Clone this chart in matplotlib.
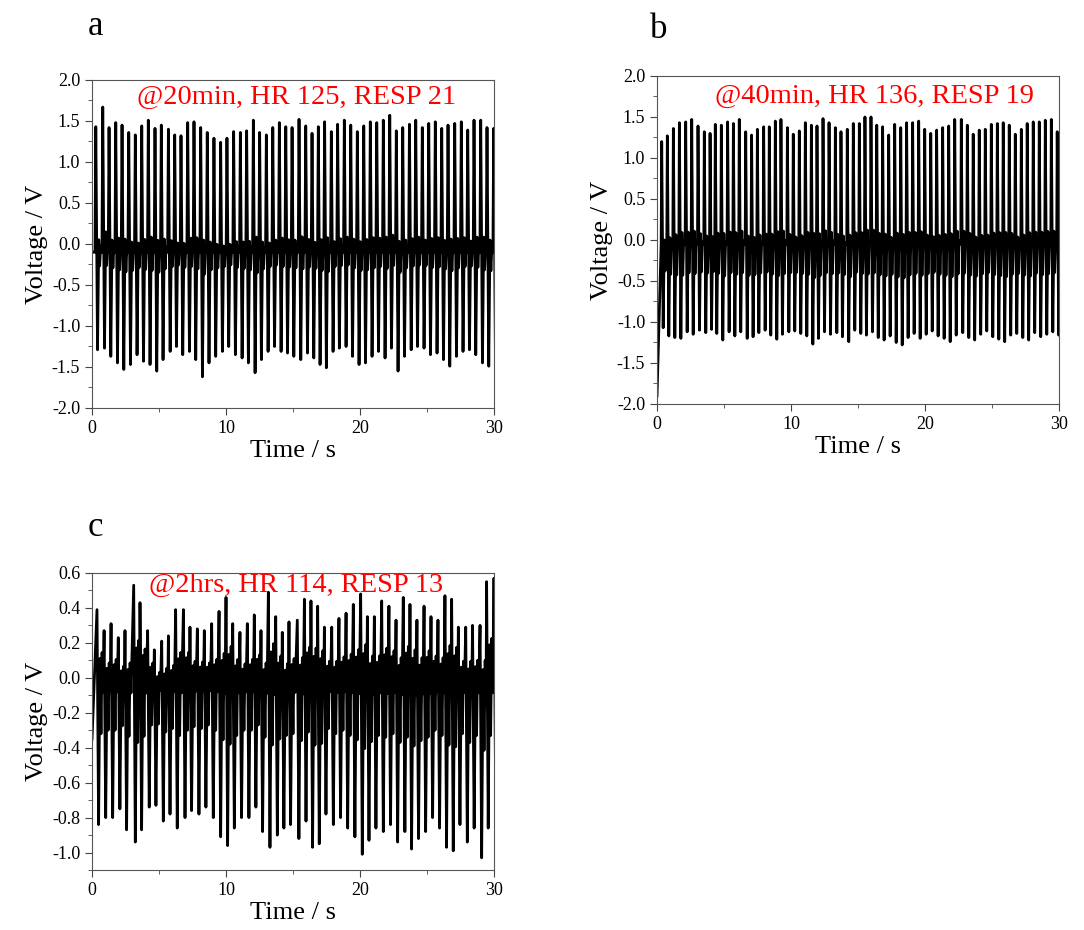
import numpy as np
import matplotlib.pyplot as plt
from matplotlib.ticker import MultipleLocator

plt.rcParams['font.family'] = ['Liberation Serif', 'DejaVu Serif']
plt.rcParams['axes.unicode_minus'] = False

# Panel a: @20min, beat times (s), R peaks and S troughs (V)
t_a = [0.28, 0.80, 1.27, 1.77, 2.24, 2.74, 3.23, 3.71, 4.20, 4.70, 5.17, 5.70, 6.17, 6.64, 7.14, 7.61,
       8.11, 8.60, 9.10, 9.60, 10.07, 10.57, 11.07, 11.54, 12.04, 12.51, 13.01, 13.49, 13.98, 14.46, 14.93, 15.45,
       15.95, 16.42, 16.89, 17.36, 17.86, 18.33, 18.83, 19.31, 19.80, 20.28, 20.77, 21.25, 21.74, 22.22, 22.71,
       23.19, 23.69, 24.16, 24.65, 25.13, 25.62, 26.10, 26.57, 27.07, 27.56, 28.04, 28.51, 29.01, 29.48, 29.98]
peak_a = [1.43, 1.67, 1.42, 1.48, 1.45, 1.36, 1.33, 1.44, 1.51, 1.41, 1.45, 1.40, 1.33, 1.32, 1.48, 1.49,
          1.42, 1.36, 1.29, 1.24, 1.29, 1.37, 1.36, 1.38, 1.51, 1.36, 1.33, 1.42, 1.48, 1.43, 1.42, 1.52,
          1.44, 1.35, 1.43, 1.49, 1.37, 1.46, 1.51, 1.45, 1.37, 1.44, 1.49, 1.48, 1.51, 1.57, 1.38,
          1.42, 1.46, 1.51, 1.42, 1.47, 1.49, 1.41, 1.45, 1.47, 1.49, 1.39, 1.51, 1.51, 1.42, 1.41]
trough_a = [-1.29, -1.27, -1.37, -1.45, -1.53, -1.47, -1.35, -1.43, -1.47, -1.55, -1.41, -1.31, -1.25, -1.35, -1.31, -1.41,
            -1.62, -1.45, -1.37, -1.31, -1.25, -1.35, -1.39, -1.45, -1.57, -1.41, -1.31, -1.25, -1.31, -1.33, -1.37, -1.41,
            -1.33, -1.39, -1.47, -1.51, -1.31, -1.27, -1.25, -1.37, -1.47, -1.45, -1.37, -1.31, -1.39, -1.27, -1.55,
            -1.37, -1.29, -1.25, -1.27, -1.35, -1.33, -1.41, -1.49, -1.37, -1.31, -1.29, -1.35, -1.45, -1.49, -1.39]

# Panel b: @40min
t_b = [0.35, 0.77, 1.22, 1.67, 2.14, 2.59, 3.06, 3.53, 3.96, 4.35, 4.80, 5.27, 5.70, 6.14, 6.62, 7.06, 7.49,
       7.96, 8.38, 8.83, 9.25, 9.73, 10.17, 10.62, 11.07, 11.52, 11.94, 12.39, 12.84, 13.31, 13.73, 14.20, 14.65, 15.10,
       15.52, 15.97, 16.40, 16.84, 17.29, 17.74, 18.19, 18.63, 19.08, 19.53, 19.98, 20.43, 20.87, 21.32, 21.77, 22.22,
       22.71, 23.16, 23.60, 24.05, 24.50, 24.95, 25.40, 25.84, 26.29, 26.74, 27.19, 27.63, 28.08, 28.53, 28.98, 29.43, 29.87]
peak_b = [1.20, 1.27, 1.36, 1.43, 1.44, 1.47, 1.39, 1.32, 1.30, 1.41, 1.40, 1.44, 1.42, 1.47, 1.32, 1.28, 1.35,
          1.38, 1.38, 1.45, 1.47, 1.37, 1.29, 1.33, 1.43, 1.40, 1.39, 1.48, 1.43, 1.37, 1.32, 1.35, 1.42, 1.42,
          1.50, 1.50, 1.40, 1.38, 1.28, 1.41, 1.37, 1.43, 1.43, 1.45, 1.35, 1.30, 1.34, 1.37, 1.39, 1.47,
          1.47, 1.40, 1.29, 1.34, 1.35, 1.41, 1.42, 1.43, 1.40, 1.29, 1.35, 1.42, 1.44, 1.44, 1.46, 1.47, 1.32]
trough_b = [-1.07, -1.17, -1.19, -1.20, -1.12, -1.15, -1.10, -1.13, -1.09, -1.14, -1.22, -1.12, -1.17, -1.12, -1.20, -1.18, -1.13,
            -1.10, -1.16, -1.21, -1.15, -1.12, -1.11, -1.14, -1.17, -1.27, -1.20, -1.12, -1.15, -1.13, -1.18, -1.24, -1.10, -1.14,
            -1.16, -1.12, -1.19, -1.22, -1.17, -1.25, -1.28, -1.19, -1.14, -1.20, -1.15, -1.11, -1.17, -1.20, -1.24, -1.16,
            -1.13, -1.19, -1.22, -1.15, -1.11, -1.18, -1.21, -1.24, -1.16, -1.14, -1.19, -1.22, -1.13, -1.18, -1.15, -1.12, -1.16]

# Panel c: @2hrs
t_c = [0.37, 0.90, 1.42, 1.96, 2.46, 3.11, 3.58, 4.15, 4.65, 5.20, 5.70, 6.24, 6.82, 7.31, 7.86, 8.38, 8.93,
       9.48, 10.00, 10.50, 11.04, 11.59, 12.11, 12.61, 13.16, 13.71, 14.20, 14.70,
       15.32, 15.85, 16.34, 16.84, 17.34, 17.89, 18.43, 18.96, 19.50, 20.05, 20.55, 21.07, 21.62, 22.16, 22.69,
       23.23, 23.73, 24.25, 24.78, 25.30, 25.82, 26.34, 26.84, 27.34, 27.89, 28.40, 28.96, 29.45, 30.00]
peak_c = [0.39, 0.27, 0.31, 0.23, 0.27, 0.53, 0.43, 0.27, 0.16, 0.21, 0.24, 0.39, 0.39, 0.29, 0.28, 0.27, 0.31,
          0.38, 0.46, 0.31, 0.26, 0.31, 0.36, 0.27, 0.49, 0.35, 0.26, 0.32,
          0.33, 0.45, 0.44, 0.41, 0.29, 0.29, 0.34, 0.37, 0.42, 0.48, 0.35, 0.35, 0.44, 0.41, 0.33,
          0.46, 0.42, 0.33, 0.41, 0.35, 0.33, 0.47, 0.45, 0.29, 0.29, 0.30, 0.30, 0.55, 0.57]
trough_c = [-0.84, -0.80, -0.80, -0.75, -0.87, -0.94, -0.87, -0.74, -0.73, -0.82, -0.78, -0.86, -0.80, -0.76, -0.78, -0.74, -0.80,
            -0.91, -0.96, -0.86, -0.80, -0.80, -0.74, -0.88, -0.97, -0.90, -0.86, -0.84,
            -0.92, -0.82, -0.97, -0.95, -0.78, -0.84, -0.80, -0.86, -0.91, -1.01, -0.93, -0.86, -0.88, -0.84, -0.94,
            -0.88, -0.98, -0.92, -0.88, -0.80, -0.86, -0.97, -0.99, -0.84, -0.94, -0.86, -1.03, -0.86, -0.60]


def trace(times, peaks, troughs, start, shape):
    # polyline through each beat: every shape point is (dt, a, b, c) -> a*peak + b*trough + c
    xs, ys = [0.0], [start]
    for t, p, q in zip(times, peaks, troughs):
        for dt, a, b, c in shape:
            xs.append(t + dt)
            ys.append(a * p + b * q + c)
    return np.array(xs), np.array(ys)


shape_a = [(-0.06, 0, 0, -0.10), (0.0, 1, 0, 0), (0.13, 0, 1, 0),
           (0.22, 0.4, 0, -0.52), (0.29, 0, 0.3, 0.12), (0.36, 0.2, 0.1, -0.18)]
shape_b = [(-0.04, 0, 0, -0.05), (0.0, 1, 0, 0), (0.11, 0, 1, 0),
           (0.19, 0.4, 0, -0.48), (0.25, 0, 0.4, 0.05), (0.32, 0.2, 0, -0.30)]
shape_c = [(0.0, 1, 0, 0), (0.12, 0, 1, 0), (0.22, 0.5, 0.1, 0.0), (0.30, 0, 0.5, 0.10),
           (0.38, 0.5, 0, -0.05), (0.45, 0, 0.1, 0.0)]

fig = plt.figure(figsize=(10.84, 9.30), dpi=100)

panels = [
    ([0.0849, 0.5613, 0.3708, 0.3527], t_a, peak_a, trough_a, -0.10, shape_a, (-2.0, 2.0), 0.5, 0.25,
     '@20min, HR 125, RESP 21', (0.51, 0.948)),
    ([0.6061, 0.5656, 0.3708, 0.3527], t_b, peak_b, trough_b, -1.90, shape_b, (-2.0, 2.0), 0.5, 0.25,
     '@40min, HR 136, RESP 19', (0.542, 0.939)),
    ([0.0849, 0.0645, 0.3708, 0.3194], t_c, peak_c, trough_c, -0.35, shape_c, (-1.1, 0.6), 0.2, 0.1,
     '@2hrs, HR 114, RESP 13', (0.507, 0.957)),
]

for rect, tt, pk, tr, st, shp, ylim, major, minor, note, npos in panels:
    ax = fig.add_axes(rect)
    x, y = trace(tt, pk, tr, st, shp)
    ax.plot(x, y, color='black', lw=2.0)
    ax.set_xlim(0, 30)
    ax.set_ylim(*ylim)
    ax.xaxis.set_major_locator(MultipleLocator(10))
    ax.xaxis.set_minor_locator(MultipleLocator(5))
    ax.yaxis.set_major_locator(MultipleLocator(major))
    ax.yaxis.set_minor_locator(MultipleLocator(minor))
    ax.yaxis.set_major_formatter(plt.FormatStrFormatter('%.1f'))
    ax.tick_params(which='both', direction='out', top=False, right=False, labelsize=13, color='#444')
    ax.tick_params(which='major', length=5)
    ax.tick_params(which='minor', length=3)
    for s in ax.spines.values():
        s.set_color('#555')
    ax.set_xlabel('Time / s', fontsize=19, labelpad=2)
    ax.set_ylabel('Voltage / V', fontsize=19, labelpad=3)
    ax.text(npos[0], npos[1], note, transform=ax.transAxes, color='red', fontsize=20.5,
            ha='center', va='center')

fig.text(0.081, 0.962, 'a', fontsize=25, ha='left', va='baseline')
fig.text(0.600, 0.959, 'b', fontsize=25, ha='left', va='baseline')
fig.text(0.081, 0.424, 'c', fontsize=25, ha='left', va='baseline')

fig.savefig('out.png', dpi=100)
